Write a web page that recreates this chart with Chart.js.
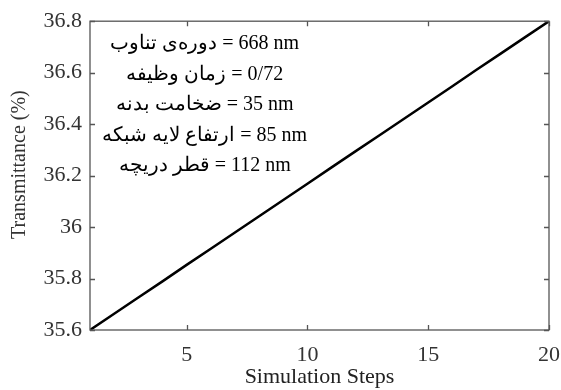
<!DOCTYPE html>
<html>
<head>
<meta charset="utf-8">
<script src="https://cdn.jsdelivr.net/npm/chart.js@4"></script>
<style>
  html, body { margin: 0; padding: 0; background: #fff; }
  #wrap { width: 561px; height: 390px; }
</style>
</head>
<body>
<div id="wrap"><canvas id="chart" width="561" height="390"></canvas></div>
<script>
// simulation steps and transmittance
var steps = [1, 2, 3, 4, 5, 6, 7, 8, 9, 10, 11, 12, 13, 14, 15, 16, 17, 18, 19, 20];
var transmittance = [35.6, 35.663, 35.726, 35.789, 35.853, 35.916, 35.979, 36.042, 36.105, 36.168,
                     36.232, 36.295, 36.358, 36.421, 36.484, 36.547, 36.611, 36.674, 36.737, 36.8];
var xTicks = [5, 10, 15, 20];
var yTicks = [35.6, 35.8, 36, 36.2, 36.4, 36.6, 36.8];
// label / value pairs of the text box
var noteLabels = ["دوره‌ی تناوب", "زمان وظیفه", "ضخامت بدنه", "ارتفاع لایه شبکه", "قطر دریچه"];
var noteValues = ["668 nm", "0/72", "35 nm", "85 nm", "112 nm"];

var serif = "'Liberation Serif', 'Times New Roman', serif";

var points = steps.map(function(s, i) { return { x: s, y: transmittance[i] }; });

var ctx = document.getElementById("chart").getContext('2d');
var chart = new Chart(ctx, {
  type: 'line',
  data: {
    datasets: [{
      data: points,
      borderColor: "#000",
      borderWidth: 2.5,
      pointRadius: 0,
      fill: false,
      tension: 0
    }]
  },
  plugins: [{
    id: "box_and_notes",
    afterDraw: (chart) => {
      const c = chart.ctx;
      const a = chart.chartArea;
      const xs = chart.scales.x, ys = chart.scales.y;
      c.save();
      // box around the plot
      c.strokeStyle = "#555";
      c.lineWidth = 1.3;
      c.strokeRect(a.left, a.top, a.right - a.left, a.bottom - a.top);
      // inward ticks on all sides
      c.beginPath();
      xTicks.forEach(function(v) {
        let px = Math.round(xs.getPixelForValue(v)) + 0.5;
        c.moveTo(px, a.bottom); c.lineTo(px, a.bottom - 5);
        c.moveTo(px, a.top); c.lineTo(px, a.top + 5);
      });
      yTicks.forEach(function(v) {
        let py = Math.round(ys.getPixelForValue(v)) + 0.5;
        c.moveTo(a.left, py); c.lineTo(a.left + 5, py);
        c.moveTo(a.right, py); c.lineTo(a.right - 5, py);
      });
      c.stroke();
      // parameter notes: persian label on the left, "= value" on the right
      c.fillStyle = "#000";
      c.font = "20px " + serif;
      c.textBaseline = "middle";
      let cx = xs.getPixelForValue(5.75);
      noteLabels.forEach(function(lab, i) {
        let rest = " = " + noteValues[i];
        let w1 = c.measureText(lab).width;
        let w2 = c.measureText(rest).width;
        let x0 = cx - (w1 + w2) / 2;
        let cy = a.top + 23 + i * 30.5;
        c.direction = "rtl";
        c.textAlign = "right";
        c.fillText(lab, x0 + w1, cy);
        c.direction = "ltr";
        c.textAlign = "left";
        c.fillText(rest, x0 + w1, cy);
      });
      // y axis title, placed as in the figure
      c.save();
      c.translate(20, (a.top + a.bottom) / 2 - 11);
      c.rotate(-Math.PI / 2);
      c.font = "20px " + serif;
      c.fillStyle = "#333";
      c.textAlign = "center";
      c.textBaseline = "middle";
      c.fillText("Transmittance (%)", 0, 0);
      c.restore();
      c.restore();
    }
  }],
  options: {
    responsive: false,
    animation: false,
    layout: {
      padding: { top: 20, right: 12, left: 0, bottom: 0 }
    },
    plugins: {
      legend: { display: false },
      tooltip: { enabled: false }
    },
    scales: {
      x: {
        type: 'linear',
        min: 1,
        max: 20,
        afterBuildTicks: (axis) => { axis.ticks = xTicks.map(v => ({ value: v })); },
        afterFit: (axis) => {
          axis.height = 60;
          axis.paddingRight = 0; // let the "20" label overhang like in the figure
        },
        grid: { display: false, drawTicks: false },
        border: { display: false },
        ticks: {
          color: "#333",
          padding: 12,
          font: { family: serif, size: 22 }
        },
        title: {
          display: true,
          text: "Simulation Steps",
          color: "#222",
          padding: { top: -2, bottom: 0 },
          font: { family: serif, size: 22 }
        }
      },
      y: {
        min: 35.6,
        max: 36.8,
        afterBuildTicks: (axis) => { axis.ticks = yTicks.map(v => ({ value: v })); },
        afterFit: (axis) => { axis.width = 90; },
        grid: { display: false, drawTicks: false },
        border: { display: false },
        ticks: {
          color: "#333",
          padding: 8,
          font: { family: serif, size: 22 },
          callback: (v) => String(Math.round(v * 10) / 10)
        },
        title: { display: false }
      }
    }
  }
});
</script>
</body>
</html>
